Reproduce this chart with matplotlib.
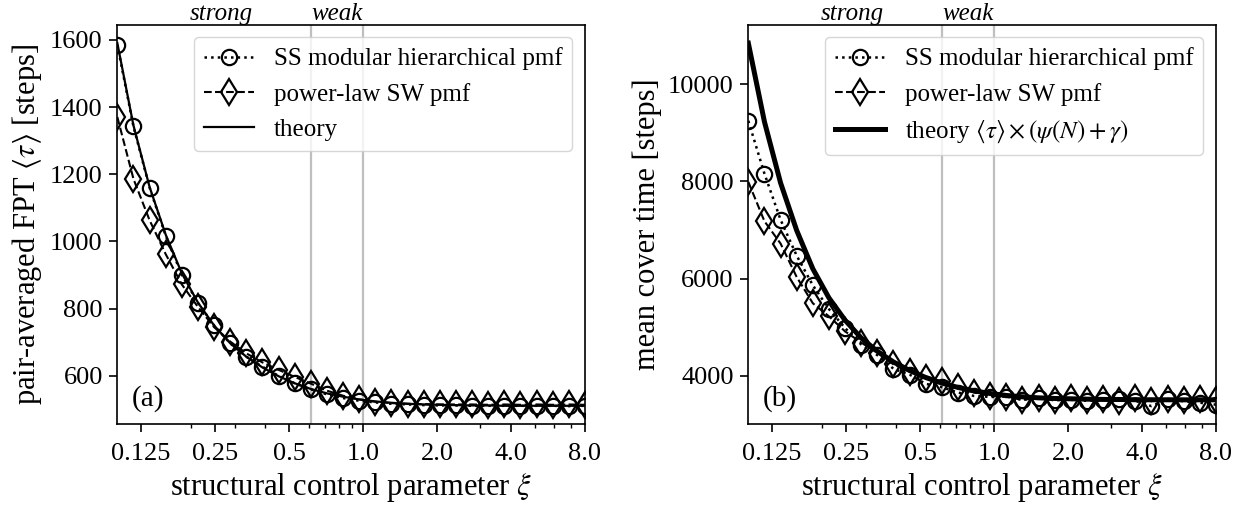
import matplotlib
matplotlib.use('Agg')
import matplotlib.pyplot as plt
from matplotlib.ticker import NullFormatter
import matplotlib.transforms as mtransforms

# ---- data ----
xi = [0.1, 0.11631, 0.13529, 0.15736, 0.18303, 0.21289, 0.24762, 0.28801,
      0.33499, 0.38963, 0.45320, 0.52712, 0.61310, 0.71310, 0.82937, 0.96466,
      1.12201, 1.30503, 1.51792, 1.76548, 2.05345, 2.38840, 2.77808, 3.23121,
      3.75829, 4.37136, 5.08440, 5.91385, 6.87844, 8.0]

circ_a = [1585, 1342, 1160, 1017, 901, 817, 750, 697, 657, 627, 600, 578, 560,
          545, 534, 526, 521, 517, 515, 513, 512, 512, 511, 511, 511, 511, 511,
          511, 510, 511]
diam_a = [1370, 1186, 1063, 962, 872, 805, 745, 702, 667, 640, 618, 597, 577,
          556, 541, 530, 523, 519, 517, 516, 515, 515, 515, 514, 515, 514, 515,
          514, 515, 514]
theory_a = [1590, 1345, 1162, 1020, 905, 818, 750, 697, 657, 625, 599, 578, 561,
            548, 538, 530, 524, 520, 517, 515, 514, 513, 512, 512, 511, 511, 511,
            511, 511, 511]

circ_b = [9250, 8160, 7210, 6470, 5860, 5370, 4980, 4640, 4420, 4140, 4020, 3830,
          3760, 3650, 3580, 3560, 3560, 3500, 3540, 3490, 3500, 3480, 3490, 3510,
          3480, 3370, 3510, 3470, 3440, 3400]
diam_b = [7990, 7180, 6720, 6030, 5490, 5220, 4910, 4680, 4470, 4230, 4080, 3950,
          3880, 3760, 3650, 3580, 3560, 3500, 3540, 3490, 3530, 3500, 3510, 3480,
          3530, 3470, 3520, 3490, 3510, 3500]
theory_b = [10850, 9230, 7970, 6990, 6200, 5600, 5140, 4775, 4500, 4280, 4105,
            3960, 3845, 3755, 3685, 3630, 3590, 3562, 3541, 3528, 3521, 3514,
            3508, 3507, 3502, 3501, 3501, 3500, 3500, 3500]

xticks = [0.125, 0.25, 0.5, 1.0, 2.0, 4.0, 8.0]
xticklabels = ['0.125', '0.25', '0.5', '1.0', '2.0', '4.0', '8.0']
vlines = [0.6131, 1.0]
regime_labels = ['strong', 'weak']
regime_pos = [0.265, 0.783]

label_circ = 'SS modular hierarchical pmf'
label_diam = 'power-law SW pmf'
label_theory_a = 'theory'
label_theory_b = r'theory $\langle\tau\rangle\times(\psi(N)+\gamma)$'
ylabel_a = r'pair-averaged FPT $\langle\tau\rangle$ [steps]'
ylabel_b = 'mean cover time [steps]'
xlabel = r'structural control parameter $\xi$'

plt.rcParams.update({
    'font.family': 'serif',
    'font.serif': ['Liberation Serif', 'DejaVu Serif'],
    'mathtext.fontset': 'stix',
    'axes.linewidth': 1.2,
    'xtick.major.width': 1.2,
    'ytick.major.width': 1.2,
    'xtick.minor.width': 1.0,
    'xtick.major.size': 5.5,
    'ytick.major.size': 5.5,
    'xtick.minor.size': 3,
    'xtick.major.pad': 8,
    'ytick.major.pad': 5,
})

fig = plt.figure(figsize=(12.47, 5.08), dpi=100)
ax1 = fig.add_axes([0.0941, 0.1648, 0.375, 0.786])
ax2 = fig.add_axes([0.6001, 0.1648, 0.375, 0.786])


def draw(ax, circ, diam, theory, th_lw, th_label, ylabel, tag):
    for v in vlines:
        ax.axvline(v, color='0.75', lw=1.6, zorder=0)
    ax.plot(xi, circ, ls=':', lw=1.8, color='k', marker='o', ms=11,
            mfc='none', mec='k', mew=1.6, label=label_circ)
    ax.plot(xi, diam, ls='--', lw=1.5, color='k', marker='d', ms=13,
            mfc='none', mec='k', mew=1.6, label=label_diam)
    ax.plot(xi, theory, ls='-', lw=th_lw, color='k', label=th_label)
    ax.set_xscale('log')
    ax.set_xlim(0.1, 8.0)
    ax.set_xticks(xticks, labels=xticklabels)
    ax.xaxis.set_minor_formatter(NullFormatter())
    ax.tick_params(axis='both', which='major', labelsize=19)
    ax.set_xlabel(xlabel, fontsize=22)
    ax.set_ylabel(ylabel, fontsize=22)
    ax.legend(loc='upper right', fontsize=18)
    ax.text(0.03, 0.03, tag, transform=ax.transAxes, fontsize=21,
            ha='left', va='bottom')
    trans = mtransforms.blended_transform_factory(ax.transData, ax.transAxes)
    for lab, pos in zip(regime_labels, regime_pos):
        ax.text(pos, 1.0, lab, transform=trans, fontsize=18,
                style='italic', ha='center', va='bottom')


draw(ax1, circ_a, diam_a, theory_a, 1.6, label_theory_a, ylabel_a, '(a)')
draw(ax2, circ_b, diam_b, theory_b, 3.6, label_theory_b, ylabel_b, '(b)')

fig.savefig('out.png', dpi=100)
